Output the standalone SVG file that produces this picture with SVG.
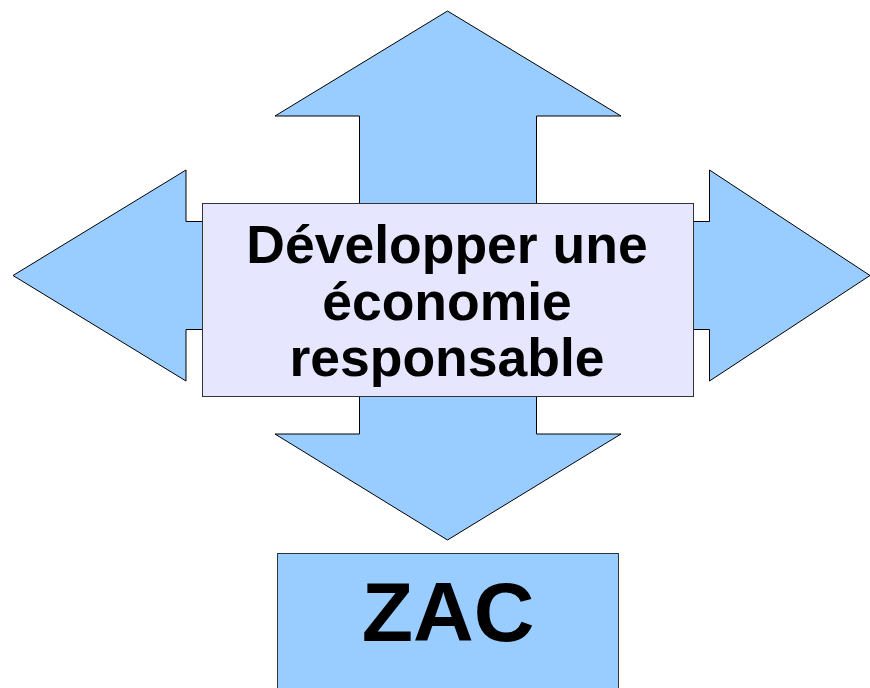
<svg xmlns="http://www.w3.org/2000/svg" width="870" height="688" viewBox="0 0 870 688">
<style>
.arrow{fill:#99ccff;stroke:#000;stroke-width:1;stroke-linejoin:miter}
.main{fill:#e6e6ff;stroke:#333;stroke-width:1}
.zac{fill:#99ccff;stroke:#333;stroke-width:1}
.t{font-family:"Liberation Sans",Arial,sans-serif;font-weight:bold;fill:#000;text-anchor:middle}
</style>
<rect width="870" height="688" fill="#fff"/>
<g id="connectors">
<polygon id="arrow-up" class="arrow" points="447.5,11 621,116 536.5,116 536.5,210 359.5,210 359.5,116 275,116"/>
<polygon id="arrow-down" class="arrow" points="359.5,390 536.5,390 536.5,434 621,434 447.5,540 275,434 359.5,434"/>
<polygon id="arrow-left" class="arrow" points="13,275.5 186,170 186,221.5 210,221.5 210,329.5 186,329.5 186,381"/>
<polygon id="arrow-right" class="arrow" points="870,275.5 709.5,170 709.5,221.5 685,221.5 685,329.5 709.5,329.5 709.5,381"/>
</g>
<g id="node-main">
<rect class="main" x="202.5" y="203.5" width="491" height="193"/>
<text class="t" font-size="53.5" x="447" y="263">Développer une</text>
<text class="t" font-size="53.5" x="447" y="319.5">économie</text>
<text class="t" font-size="53.5" x="447" y="376">responsable</text>
</g>
<g id="node-zac">
<rect class="zac" x="277.5" y="553.5" width="341" height="140"/>
<text class="t" font-size="84" x="448" y="641">ZAC</text>
</g>
</svg>
